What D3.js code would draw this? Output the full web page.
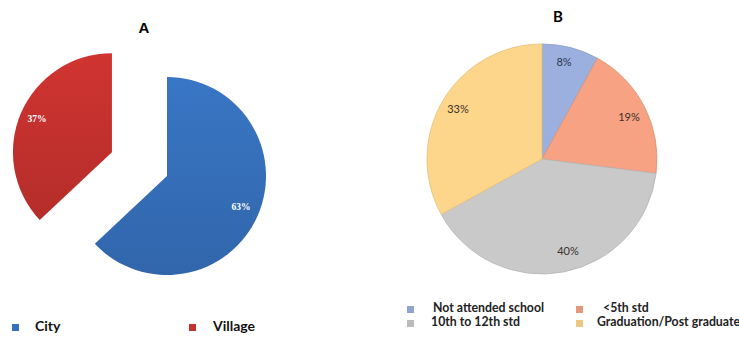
<!DOCTYPE html>
<html><head><meta charset="utf-8">
<script src="https://cdn.jsdelivr.net/npm/d3@7"></script>
<style>body{margin:0;background:#fff}svg{display:block}</style>
</head><body>
<svg id="c" width="739" height="337"></svg>
<script>
const placeCategories = ["City", "Village"];
const placeValues = [63, 37];
const placeColors = ["#3670bb", "#c5312e"];
const eduCategories = ["Not attended school", "<5th std", "10th to 12th std", "Graduation/Post graduate"];
const eduValues = [8, 19, 40, 33];
const eduColors = ["#9bb0de", "#f7a282", "#c9c9c9", "#fed68b"];

const svg = d3.select("#c");
const font = "Lato, 'Open Sans', sans-serif";

const defs = svg.append("defs");
function grad(id, c) {
  const g = defs.append("linearGradient").attr("id", id).attr("x1", 0).attr("y1", 0).attr("x2", 0).attr("y2", 1);
  g.append("stop").attr("offset", "0%").attr("stop-color", d3.color(c).brighter(0.15));
  g.append("stop").attr("offset", "100%").attr("stop-color", d3.color(c).darker(0.25));
}
placeColors.forEach((c, i) => grad("ga" + i, c));

// Pie A
const pieGen = d3.pie().sort(null).value(d => d);
const rA = 99;
const cA = [167, 176];
const arcA = d3.arc().innerRadius(0).outerRadius(rA);
const gA = svg.append("g").attr("transform", `translate(${cA[0]},${cA[1]})`);
const arcsA = pieGen(placeValues);
const explode = [0, 60];
const slA = gA.selectAll("g.s").data(arcsA).enter().append("g")
  .attr("transform", (d, i) => {
    const m = (d.startAngle + d.endAngle) / 2;
    return `translate(${Math.sin(m) * explode[i]},${-Math.cos(m) * explode[i]})`;
  });
slA.append("path").attr("d", arcA).attr("fill", (d, i) => `url(#ga${i})`);
const labA = [[74, 32], [-75, -32]];
slA.append("text")
  .attr("x", (d, i) => labA[i][0]).attr("y", (d, i) => labA[i][1])
  .attr("text-anchor", "middle").attr("dominant-baseline", "middle")
  .attr("fill", "#fff").attr("font-family", "'Liberation Serif', serif").attr("font-weight", "bold")
  .attr("font-size", 9.5).text(d => d.data + "%");

svg.append("text").attr("x", 144).attr("y", 33).attr("text-anchor", "middle")
  .attr("font-family", "'Liberation Sans', Arial, sans-serif").attr("font-weight", "bold").attr("font-size", 15)
  .text("A");

// Legend A
const legA = svg.selectAll("g.la").data(placeCategories).enter().append("g")
  .attr("transform", (d, i) => `translate(${[12, 189][i]},327)`);
legA.append("rect").attr("x", 0).attr("y", -3).attr("width", 7).attr("height", 7)
  .attr("fill", (d, i) => placeColors[i]);
legA.append("text").attr("x", (d, i) => [23, 24][i]).attr("y", 0).attr("dominant-baseline", "middle")
  .attr("font-family", font).attr("font-weight", "bold").attr("font-size", 14).attr("fill", "#111").text(d => d);

// Pie B
const rB = 115;
const cB = [542, 159];
const arcB = d3.arc().innerRadius(0).outerRadius(rB);
const gB = svg.append("g").attr("transform", `translate(${cB[0]},${cB[1]})`);
const arcsB = pieGen(eduValues);
gB.selectAll("path").data(arcsB).enter().append("path")
  .attr("d", arcB).attr("fill", (d, i) => eduColors[i])
  .attr("stroke", (d, i) => d3.color(eduColors[i]).darker(0.3)).attr("stroke-width", 0.8);
const labPos = [[22, -96], [87, -41], [26, 93], [-84, -49]];
gB.selectAll("text").data(arcsB).enter().append("text")
  .attr("x", (d, i) => labPos[i][0]).attr("y", (d, i) => labPos[i][1])
  .attr("text-anchor", "middle").attr("dominant-baseline", "middle")
  .attr("font-family", font).attr("font-size", 11).attr("fill", (d, i) => i === 0 ? "#2c3550" : "#3a3028")
  .text(d => d.data + "%");

svg.append("text").attr("x", 558).attr("y", 22).attr("text-anchor", "middle")
  .attr("font-family", font).attr("font-weight", "bold").attr("font-size", 15)
  .text("B");

// Legend B
const legPosB = [[407, 309], [576, 309], [407, 323], [576, 323]];
const textOffB = [26, 27, 24, 21];
const legB = svg.selectAll("g.lb").data(eduCategories).enter().append("g")
  .attr("transform", (d, i) => `translate(${legPosB[i][0]},${legPosB[i][1]})`);
legB.append("rect").attr("x", 0).attr("y", -3).attr("width", 7).attr("height", 7)
  .attr("fill", (d, i) => d3.color(eduColors[i]).darker(0.2));
legB.append("text").attr("x", (d, i) => textOffB[i]).attr("y", 0).attr("dominant-baseline", "middle")
  .attr("font-family", font).attr("font-weight", "bold").attr("font-size", 12.3).attr("fill", "#222").text(d => d);
</script>
</body></html>
